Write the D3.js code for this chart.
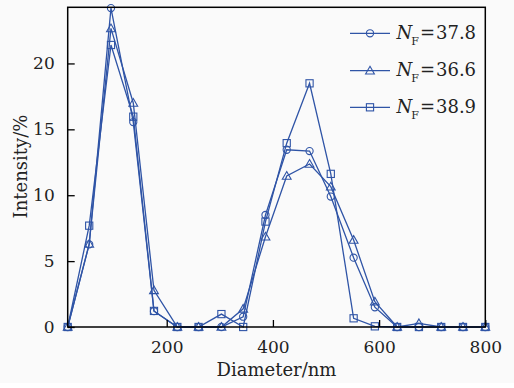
<!DOCTYPE html>
<html>
<head>
<meta charset="utf-8">
<script src="https://cdn.jsdelivr.net/npm/d3@7"></script>
<style>
  html, body { margin: 0; padding: 0; background: #ffffff; }
  svg { display: block; }
</style>
</head>
<body>
<svg id="chart" width="514" height="388"></svg>
<script>
// Particle size distribution, three samples
const diameters = [13.5, 54, 95, 137, 176, 220, 260, 303, 344, 386, 426, 469, 509, 552, 592, 634, 675, 717, 758, 800];
const intensityA = [0, 6.27, 24.2, 15.55, 1.2, 0, 0, 0, 0.78, 8.5, 13.45, 13.35, 9.9, 5.26, 1.5, 0, 0, 0, 0, 0];
const intensityB = [0, 6.3, 22.66, 17.0, 2.78, 0, 0, 0, 1.38, 6.85, 11.46, 12.37, 10.65, 6.6, 1.92, 0, 0.28, 0, 0, 0];
const intensityC = [0, 7.69, 21.4, 15.96, 1.22, 0, 0, 0.98, 0, 8.0, 13.95, 18.49, 11.62, 0.66, 0.05, 0, 0, 0, 0, 0];
const seriesLabels = ["37.8", "36.6", "38.9"];
const markerKinds = ["circle", "triangle", "square"];
const xTicks = [200, 400, 600, 800];
const yTicks = [0, 5, 10, 15, 20];

const blue = "#2f54a6";
const font = "'DejaVu Serif', serif";

const svg = d3.select("#chart");
svg.append("rect").attr("x", 0).attr("y", 0).attr("width", 514).attr("height", 383).attr("fill", "#fafafa");

const plot = { left: 67.7, right: 485.3, top: 7.3, bottom: 327 };
const x = d3.scaleLinear().domain([13.5, 800]).range([plot.left, plot.right]);
const y = d3.scaleLinear().domain([0, 24.26]).range([plot.bottom, plot.top]);

const series = [intensityA, intensityB, intensityC].map((vals, i) => ({
  label: seriesLabels[i],
  kind: markerKinds[i],
  points: vals.map((v, j) => ({ d: diameters[j], v }))
}));

function drawMarker(g, kind, cx, cy) {
  if (kind === "circle") {
    g.append("circle").attr("cx", cx).attr("cy", cy).attr("r", 3.6)
      .attr("fill", "none").attr("stroke", blue).attr("stroke-width", 1.1);
  } else if (kind === "square") {
    g.append("rect").attr("x", cx - 3.6).attr("y", cy - 3.6).attr("width", 7.2).attr("height", 7.2)
      .attr("fill", "none").attr("stroke", blue).attr("stroke-width", 1.1);
  } else {
    const s = 4.4;
    g.append("path")
      .attr("d", `M${cx},${cy - s}L${cx + s},${cy + s * 0.75}L${cx - s},${cy + s * 0.75}Z`)
      .attr("fill", "none").attr("stroke", blue).attr("stroke-width", 1.1);
  }
}

// Data lines
const line = d3.line().x(p => x(p.d)).y(p => y(p.v));
const dataG = svg.append("g");
series.forEach(s => {
  dataG.append("path").datum(s.points).attr("d", line)
    .attr("fill", "none").attr("stroke", blue).attr("stroke-width", 1.3);
});
series.forEach(s => {
  const mg = dataG.append("g");
  s.points.forEach(p => drawMarker(mg, s.kind, x(p.d), y(p.v)));
});

// Axes with inward ticks
const xAxis = svg.append("g").attr("transform", `translate(0,${plot.bottom})`)
  .call(d3.axisBottom(x).tickValues(xTicks).tickSizeInner(-7).tickSizeOuter(0).tickPadding(14));
const yAxis = svg.append("g").attr("transform", `translate(${plot.left},0)`)
  .call(d3.axisLeft(y).tickValues(yTicks).tickSizeInner(-7).tickSizeOuter(0).tickPadding(13));
[xAxis, yAxis].forEach(a => {
  a.select(".domain").remove();
  a.selectAll(".tick line").attr("stroke", "#000").attr("stroke-width", 1.3);
  a.selectAll(".tick text").attr("fill", "#222").style("font-family", font).style("font-size", "17px");
});

// Frame
svg.append("rect").attr("x", plot.left).attr("y", plot.top)
  .attr("width", plot.right - plot.left).attr("height", plot.bottom - plot.top)
  .attr("fill", "none").attr("stroke", "#000").attr("stroke-width", 1.5);

// Axis titles
svg.append("text").attr("x", (plot.left + plot.right) / 2).attr("y", 375.5)
  .attr("text-anchor", "middle").attr("fill", "#222")
  .style("font-family", font).style("font-size", "18px").text("Diameter/nm");
svg.append("text").attr("transform", "translate(27,166.5) rotate(-90)")
  .attr("text-anchor", "middle").attr("fill", "#222")
  .style("font-family", font).style("font-size", "18px").text("Intensity/%");

// Legend
const legendRows = [33.3, 70.7, 107.3];
series.forEach((s, i) => {
  const ly = legendRows[i];
  const g = svg.append("g");
  g.append("line").attr("x1", 350).attr("x2", 390).attr("y1", ly).attr("y2", ly)
    .attr("stroke", blue).attr("stroke-width", 1.3);
  drawMarker(g, s.kind, 370, ly);
  const t = g.append("text").attr("x", 396.5).attr("y", ly + 5.5).attr("fill", "#222")
    .style("font-family", font).style("font-size", "18px");
  t.append("tspan").style("font-style", "italic").text("N");
  t.append("tspan").attr("dy", 6).attr("dx", -1).style("font-size", "11px").text("F");
  t.append("tspan").attr("dy", -6).attr("dx", 1).text("=");
  t.append("tspan").attr("dx", 1).text(s.label);
});
</script>
</body>
</html>
